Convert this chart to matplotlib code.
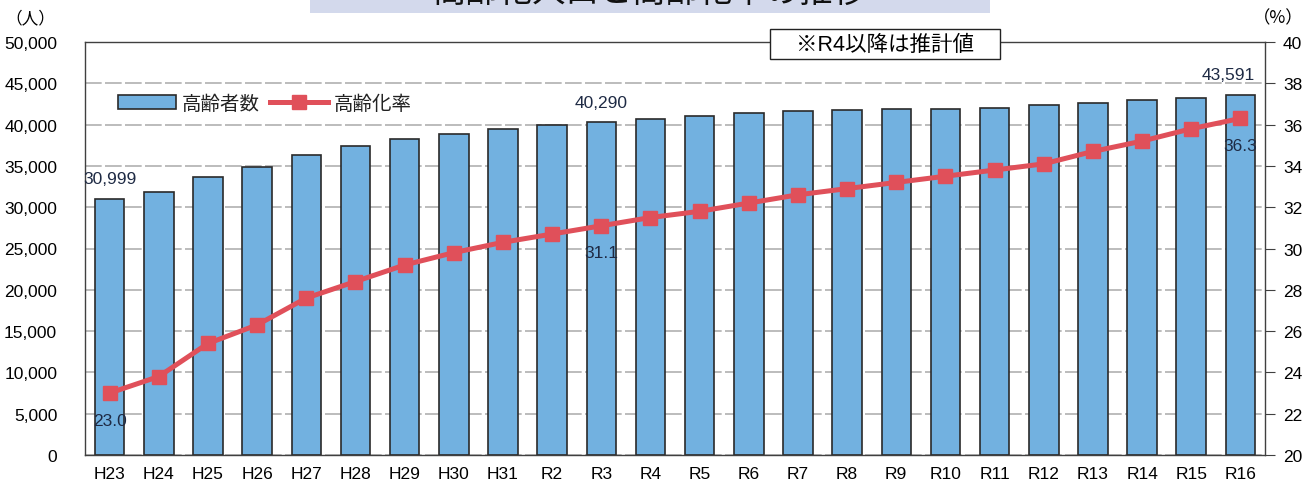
import matplotlib
matplotlib.use('Agg')
import matplotlib.pyplot as plt
from matplotlib.patches import Rectangle
import numpy as np

plt.rcParams['font.family'] = ['Liberation Sans', 'Noto Sans CJK JP', 'DejaVu Sans']

# data
years = ['H23', 'H24', 'H25', 'H26', 'H27', 'H28', 'H29', 'H30', 'H31',
         'R2', 'R3', 'R4', 'R5', 'R6', 'R7', 'R8', 'R9', 'R10', 'R11',
         'R12', 'R13', 'R14', 'R15', 'R16']
elderly = [30999, 31800, 33620, 34830, 36320, 37370, 38260, 38900, 39470,
           39950, 40290, 40680, 41000, 41440, 41600, 41770, 41920, 41890,
           42050, 42370, 42650, 42980, 43220, 43591]
rate = [23.0, 23.8, 25.4, 26.3, 27.6, 28.4, 29.2, 29.8, 30.3,
        30.7, 31.1, 31.5, 31.8, 32.2, 32.6, 32.9, 33.2, 33.5, 33.8,
        34.1, 34.7, 35.2, 35.8, 36.3]
left_ticks = [0, 5000, 10000, 15000, 20000, 25000, 30000, 35000, 40000, 45000, 50000]
right_ticks = [20, 22, 24, 26, 28, 30, 32, 34, 36, 38, 40]
count_labels = [0, 10, 23]   # indexes with value labels
rate_labels = [0, 10, 23]

title = '高齢化人口と高齢化率の推移'
note = '※R4以降は推計値'

bar_color = '#72b1e0'
line_color = '#e0505a'
label_color = '#1e2a44'

fig = plt.figure(figsize=(13.12, 4.89), dpi=100)
ax = fig.add_axes([85/1312, 33/489, 1180/1312, 413/489])
x = np.arange(len(years))

ax.bar(x, elderly, width=0.6, color=bar_color, edgecolor='#2a2a2a',
       linewidth=1.2, label='高齢者数', zorder=2)
ax.set_xlim(-0.5, len(years) - 0.5)
ax.set_ylim(0, 50000)
ax.set_yticks(left_ticks)
ax.set_yticklabels(['{:,}'.format(v) for v in left_ticks])
ax.set_xticks(x)
ax.set_xticklabels(years)
ax.tick_params(axis='x', length=0, pad=8, labelsize=12.5)
ax.tick_params(axis='y', length=0, pad=20, labelsize=12.5)
ax.grid(axis='y', color='#b0b0b0', linestyle=(0, (10, 2)), linewidth=1.2, zorder=0)
ax.set_axisbelow(True)
for s in ax.spines.values():
    s.set_color('#404040')
    s.set_linewidth(1.0)

ax2 = ax.twinx()
ax2.plot(x, rate, color=line_color, linewidth=3.6, marker='s', markersize=10,
         label='高齢化率', zorder=3)
ax2.set_ylim(20, 40)
ax2.set_yticks(right_ticks)
ax2.tick_params(axis='y', length=7, width=0.8, color='#404040', pad=6, labelsize=12.5)
for s in ax2.spines.values():
    s.set_visible(False)

for i in count_labels:
    dx = -12 if i == len(years) - 1 else 0
    ax.annotate('{:,}'.format(elderly[i]), (x[i], elderly[i]), xytext=(dx, 20),
                textcoords='offset pixels', ha='center', va='center',
                fontsize=12.5, color=label_color)
for i in rate_labels:
    ax2.annotate('{:.1f}'.format(rate[i]), (x[i], rate[i]), xytext=(0, -27),
                 textcoords='offset pixels', ha='center', va='center',
                 fontsize=12.5, color=label_color)

h1, l1 = ax.get_legend_handles_labels()
h2, l2 = ax2.get_legend_handles_labels()
ax2.legend(h1 + h2, l1 + l2, loc='upper left', bbox_to_anchor=(0.013, 0.915),
           ncol=2, frameon=False, fontsize=14, handlelength=3.0,
           handletextpad=0.3, columnspacing=0.5, labelcolor='#222222')

# note box crossing the top frame
fig.patches.append(Rectangle((770/1312, 1 - 60/489), 230/1312, 30/489,
                             transform=fig.transFigure, facecolor='white',
                             edgecolor='#222222', linewidth=1.0, zorder=9))
fig.text(885/1312, 1 - 45/489, note, ha='center', va='center', fontsize=15.5,
         zorder=10)

# unit labels
fig.text(5/1312, 1 - 18/489, '（人）', ha='left', va='center', fontsize=12)
fig.text(1304/1312, 1 - 18/489, '（%）', ha='right', va='center', fontsize=12.5,
         family=['Noto Sans CJK JP'])

# title banner cut off at the top
fig.patches.append(Rectangle((310/1312, 1 - 14/489), 680/1312, 14/489,
                             transform=fig.transFigure, facecolor='#d3d9ec',
                             edgecolor='none', zorder=0))
fig.text(650/1312, 1 + 7/489, title, ha='center', va='center', fontsize=24,
         color='#111111', zorder=1)

plt.savefig('out.png', dpi=100)
plt.close()
